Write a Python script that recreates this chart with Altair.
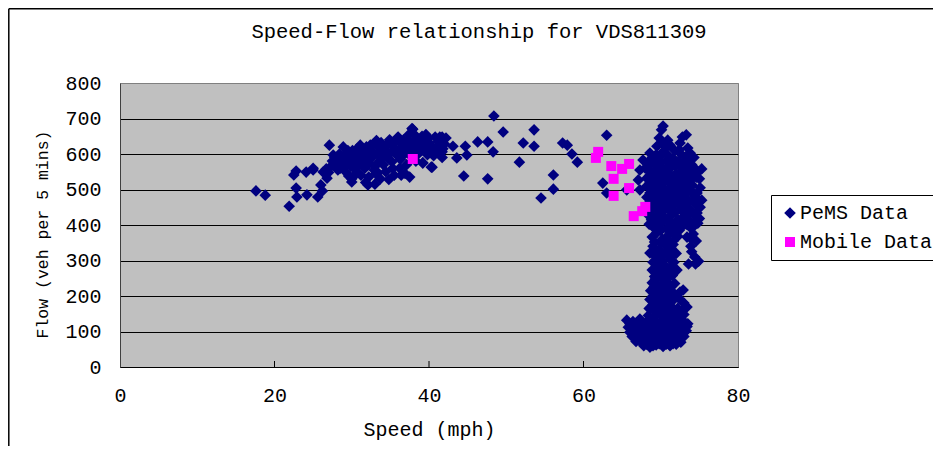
import altair as alt
import pandas as pd

# ---------------- data ----------------
series_names = ["PeMS Data", "Mobile Data"]
series_colors = ["#000080", "#FF00FF"]
x_ticks = [0, 20, 40, 60, 80]
y_ticks = [0, 100, 200, 300, 400, 500, 600, 700, 800]
inner_x_ticks = [20, 40, 60]
chart_title = "Speed-Flow relationship for VDS811309"

pems_points = [
    # sparse low-speed points
    (17.6, 496), (18.8, 484), (21.9, 453), (22.8, 552), (22.5, 541), (24.1, 549),
    (25.0, 560), (22.8, 504), (22.9, 479), (24.2, 485), (25.6, 479), (26.0, 513),
    (26.2, 496), (26.7, 558), (26.8, 532), (27.1, 625), (27.6, 597), (27.8, 577),
    (28.9, 620), (28.5, 560), (25.0, 555), (26.3, 549), (30.0, 521), (33.4, 547),
    (37.9, 670), (41.4, 648), (40.4, 563), (39.2, 575),
    # dense congested cluster 27-42 mph
    (27.0, 548), (27.3, 565), (27.5, 580), (27.8, 590), (28.0, 572), (28.2, 555),
    (28.4, 600), (28.6, 583), (28.8, 562), (29.0, 595), (29.1, 575), (29.3, 548),
    (29.5, 610), (29.7, 588), (29.9, 566), (30.0, 530), (30.2, 598), (30.4, 578),
    (30.5, 555), (30.7, 615), (30.9, 590), (31.0, 570), (31.2, 540), (31.4, 605),
    (31.5, 585), (31.7, 560), (31.9, 620), (32.0, 598), (32.1, 513), (32.3, 575),
    (32.5, 610), (32.6, 590), (32.8, 628), (33.0, 565), (33.1, 545), (33.3, 600),
    (33.5, 618), (33.6, 580), (33.8, 632), (34.0, 595), (34.1, 570), (34.3, 612),
    (34.5, 625), (34.7, 588), (34.9, 640), (35.0, 603), (35.2, 578), (35.4, 620),
    (35.6, 635), (35.8, 598), (36.0, 648), (36.1, 612), (36.3, 585), (36.5, 628),
    (36.7, 640), (36.9, 545), (37.0, 605), (37.2, 620), (37.4, 655), (37.5, 535),
    (37.6, 595), (37.8, 672), (38.0, 630), (38.2, 612), (38.4, 645), (38.6, 600),
    (38.8, 625), (39.0, 640), (39.2, 575), (39.4, 615), (39.6, 655), (39.8, 598),
    (40.0, 632), (40.3, 563), (40.5, 610), (40.8, 648), (41.0, 620), (41.4, 606),
    (41.5, 640), (41.7, 590), (42.0, 628),
    (28.3, 588), (29.2, 565), (29.6, 538), (30.1, 610), (30.6, 545), (31.1, 625),
    (31.6, 598), (32.2, 535), (32.4, 625), (32.9, 555), (33.2, 638), (33.7, 530),
    (33.9, 605), (34.4, 550), (34.6, 600), (34.8, 528), (35.1, 630), (35.3, 560),
    (35.7, 612), (35.9, 645), (36.2, 560), (36.6, 595), (36.8, 618), (37.1, 570),
    (37.3, 640), (37.7, 610), (38.1, 655), (38.3, 580), (38.5, 635), (38.9, 610),
    (39.1, 650), (39.5, 630), (39.9, 645), (40.2, 625), (40.6, 595), (41.2, 635),
    (41.8, 615), (42.2, 645), (31.8, 520), (33.0, 515), (35.5, 540), (36.4, 540),
    # transition 42-65 mph
    (41.7, 648), (43.1, 622), (44.7, 622), (44.9, 597), (43.6, 589), (41.7, 606),
    (46.3, 634), (47.6, 634), (48.3, 606), (44.5, 538), (47.6, 530), (48.4, 707),
    (49.6, 662), (51.7, 577), (52.2, 631), (53.6, 668), (53.6, 622), (57.3, 631),
    (57.9, 625), (58.5, 600), (59.2, 577), (56.1, 541), (56.1, 501), (54.5, 476),
    (63.0, 653), (62.5, 518), (63.0, 490), (65.6, 499),
    # free-flow column, upper part
    (70.3, 679), (70.1, 668),
    (69.8, 645), (70.9, 639), (73.3, 654), (72.8, 648),
    (72.5, 631), (73.5, 617), (71.2, 625), (70.2, 632), (69.5, 622),
    (68.6, 603), (69.4, 598), (70.3, 606), (71.0, 595), (71.8, 610), (72.6, 600), (73.2, 592), (73.8, 603),
    (67.7, 583), (68.5, 578), (69.2, 585), (70.0, 575), (70.8, 582), (71.5, 572), (72.3, 580), (73.0, 575), (74.0, 570),
    (67.3, 555), (68.0, 560), (68.8, 548), (69.6, 558), (70.4, 552), (71.2, 560), (72.0, 545), (72.8, 555), (73.6, 548), (74.8, 549), (75.3, 558),
    (67.1, 527), (68.2, 532), (69.0, 525), (69.8, 535), (70.6, 528), (71.4, 538), (72.2, 522), (73.0, 530), (73.8, 525), (74.6, 535),
    (67.3, 499), (68.2, 510), (69.0, 502), (69.8, 512), (70.5, 498), (71.3, 508), (72.1, 495), (72.9, 505), (73.7, 500), (74.7, 490),
    (68.2, 478), (69.0, 485), (69.7, 472), (70.5, 482), (71.3, 470), (72.0, 485), (72.8, 476), (73.6, 468), (74.4, 480), (75.3, 470),
    (68.3, 452), (69.1, 460), (69.9, 448), (70.7, 456), (71.5, 445), (72.3, 458), (73.1, 450), (73.9, 442), (74.7, 455),
    (68.3, 430), (69.0, 422), (69.8, 432), (70.6, 418), (71.4, 428), (72.2, 415), (73.0, 425), (73.8, 435), (74.7, 434), (75.0, 418),
    (68.5, 402), (69.3, 395), (70.1, 405), (70.9, 392), (71.7, 400), (72.5, 390), (73.3, 402), (74.2, 395), (74.8, 405),
    (68.9, 590), (69.9, 592), (70.7, 618), (71.6, 588), (72.4, 612), (73.4, 580), (74.3, 590),
    (68.4, 565), (69.3, 570), (70.1, 562), (71.0, 566), (71.9, 568), (72.7, 562), (73.5, 565), (74.4, 560),
    (68.6, 540), (69.4, 545), (70.2, 540), (71.0, 545), (71.8, 532), (72.6, 540), (73.4, 538), (74.2, 545), (75.0, 530),
    (68.6, 518), (69.4, 520), (70.2, 515), (71.0, 522), (71.8, 515), (72.5, 518), (73.3, 515), (74.1, 512), (75.1, 505),
    (68.6, 490), (69.4, 494), (70.1, 488), (70.9, 492), (71.7, 488), (72.5, 490), (73.3, 488), (74.1, 492),
    (68.6, 465), (69.4, 470), (70.2, 465), (71.0, 462), (71.8, 468), (72.6, 465), (73.4, 460), (74.3, 465), (75.1, 450),
    (68.7, 440), (69.5, 443), (70.3, 438), (71.1, 442), (71.9, 436), (72.7, 440), (73.5, 444), (74.3, 430),
    (68.8, 415), (69.6, 412), (70.4, 418), (71.2, 410), (72.0, 405), (72.8, 412), (73.6, 415), (74.5, 410),
    # middle part
    (68.9, 366), (69.5, 378), (70.2, 360), (71.0, 372), (71.6, 355), (72.2, 368), (73.8, 394), (73.4, 366),
    (74.2, 375), (74.6, 355), (73.9, 340), (74.4, 310), (74.9, 298), (74.0, 325), (73.6, 290), (69.0, 340),
    (69.8, 330), (70.5, 345), (71.3, 335), (72.0, 320), (68.6, 321), (69.4, 310), (70.2, 300), (71.0, 312),
    (71.7, 295), (68.9, 273), (69.6, 285), (70.4, 270), (71.2, 280), (72.1, 273), (69.2, 255), (70.0, 260),
    (70.8, 248), (71.5, 258),
    (69.2, 390), (70.0, 385), (70.8, 388), (71.6, 382), (72.4, 385), (69.2, 352), (70.0, 350), (70.8, 356),
    (71.6, 345), (74.0, 360), (69.3, 325), (70.1, 318), (70.9, 328), (71.6, 318),
    (74.5, 290), (69.0, 295), (69.8, 292), (70.6, 285), (71.4, 300), (69.5, 265),
    (70.2, 278), (71.0, 265), (71.8, 268),
    # lower part
    (68.9, 237), (69.7, 228), (70.5, 240), (71.2, 225), (68.7, 215), (69.5, 205), (70.3, 212), (71.0, 200),
    (72.5, 211), (72.9, 217), (73.4, 169), (73.0, 180), (68.6, 190), (69.3, 182), (70.1, 192), (70.9, 178),
    (71.6, 188), (68.5, 165), (69.2, 158), (70.0, 168), (70.8, 155), (71.5, 162), (72.3, 150), (68.4, 145),
    (69.1, 140), (69.9, 148), (70.7, 138), (71.4, 145), (72.2, 140), (73.0, 148),
    (69.3, 248), (70.1, 250), (70.9, 238), (71.8, 235), (69.1, 225), (69.9, 218), (70.7, 222), (71.5, 212),
    (72.0, 200), (69.0, 200), (69.8, 195), (70.5, 185), (71.3, 172), (72.2, 165), (69.0, 175), (69.7, 168),
    (70.4, 160), (71.2, 150), (72.5, 190), (72.8, 160),
    # bottom blob
    (65.6, 132), (66.4, 128), (67.3, 135), (68.1, 125), (69.0, 132), (70.0, 128), (71.0, 135), (72.0, 126), (72.9, 130), (73.5, 122),
    (65.8, 112), (66.6, 118), (67.4, 110), (68.2, 116), (69.1, 108), (69.9, 118), (70.8, 112), (71.7, 115), (72.6, 108), (73.4, 114),
    (66.0, 98), (66.8, 102), (67.6, 95), (68.4, 104), (69.3, 97), (70.1, 103), (71.0, 95), (71.9, 100), (72.8, 94), (73.3, 102),
    (66.3, 86), (67.1, 82), (67.9, 88), (68.7, 80), (69.5, 86), (70.4, 82), (71.3, 88), (72.2, 80), (73.0, 86),
    (66.8, 72), (67.6, 68), (68.4, 74), (69.2, 66), (70.0, 72), (70.9, 68), (71.8, 74), (72.6, 70),
    (67.8, 60), (68.6, 56), (69.4, 62), (70.3, 58), (71.2, 60), (72.0, 64),
    (66.0, 122), (66.9, 124), (67.8, 120), (68.6, 128), (69.5, 122), (70.5, 122), (71.4, 126), (72.4, 120), (73.2, 118),
    (66.3, 108), (67.0, 106), (67.9, 104), (68.7, 112), (69.6, 104), (70.4, 110), (71.3, 104), (72.2, 110), (73.0, 104),
    (66.6, 92), (67.3, 90), (68.1, 96), (68.9, 92), (69.8, 92), (70.7, 96), (71.6, 92), (72.5, 88),
    (67.0, 78), (67.9, 76), (68.8, 74), (69.7, 78), (70.6, 76), (71.5, 80), (72.4, 78),
    (68.2, 64), (69.0, 60), (69.8, 66), (70.7, 64), (71.6, 66),
]

mobile_speed = [37.9, 61.9, 61.6, 63.6, 65.0, 65.9, 63.9, 65.9, 63.9, 68.0, 67.6, 66.5]
mobile_flow = [586, 606, 589, 566, 558, 572, 530, 504, 482, 451, 439, 425]

# ---------------- build tables ----------------
pems_speed = [p[0] for p in pems_points]
pems_flow = [p[1] for p in pems_points]
df = pd.DataFrame({
    "speed": pems_speed + mobile_speed,
    "flow": pems_flow + mobile_flow,
    "series": [series_names[0]] * len(pems_speed) + [series_names[1]] * len(mobile_speed),
})
tick_df = pd.DataFrame({"speed": inner_x_ticks})
one_row = pd.DataFrame({"a": [0]})
title_df = pd.DataFrame({"t": [chart_title]})

FONT = "Liberation Mono"
W, H = 618, 284
PAD = {"left": 112, "top": 75, "right": 195, "bottom": 79}

legend = alt.Legend(
    title=None, orient="none", legendX=651, legendY=112,
    strokeColor="black", fillColor="white", padding=8, cornerRadius=0,
    labelFont=FONT, labelFontSize=20, labelColor="black",
    labelExpr="datum.label + '   '", labelLimit=400,
    rowPadding=9, symbolOffset=1, labelOffset=0, symbolSize=60,
    symbolStrokeWidth=0,
)

x_enc = alt.X(
    "speed:Q",
    scale=alt.Scale(domain=[0, 80], nice=False, zero=True),
    axis=alt.Axis(
        values=x_ticks, title="Speed (mph)", grid=False, ticks=False, tickSize=0,
        labelFont=FONT, labelFontSize=20, labelColor="black", labelPadding=28,
        labelBaseline="middle", labelFlush=False,
        titleFont=FONT, titleFontSize=20, titleFontWeight="normal", titleColor="black",
        titleY=62, titleBaseline="middle",
        domainColor="black", domainWidth=1,
    ),
)
y_enc = alt.Y(
    "flow:Q",
    scale=alt.Scale(domain=[0, 800], nice=False),
    axis=alt.Axis(
        values=y_ticks, title="Flow (veh per 5 mins)", grid=True,
        gridColor={"condition": {"test": "datum.value === 800", "value": "#808080"}, "value": "black"},
        gridOpacity=1, gridWidth=1, ticks=False, tickSize=0,
        labelFont=FONT, labelFontSize=20, labelColor="black", labelPadding=19,
        labelFlush=False,
        titleFont=FONT, titleFontSize=16.5, titleFontWeight="normal", titleColor="black",
        titleX=-78, titleY=151, titleAngle=270, titleAlign="center", titleBaseline="middle",
        domainColor="#404040", domainWidth=1,
    ),
)

points = alt.Chart(df).mark_point(filled=True, opacity=1, strokeWidth=0).encode(
    x=x_enc,
    y=y_enc,
    color=alt.Color("series:N", scale=alt.Scale(domain=series_names, range=series_colors), legend=legend),
    shape=alt.Shape("series:N", scale=alt.Scale(domain=series_names, range=["diamond", "square"]), legend=legend),
    size=alt.Size("series:N", scale=alt.Scale(domain=series_names, range=[135, 100]), legend=None),
)

inner_ticks = alt.Chart(tick_df).mark_rule(color="black", strokeWidth=1).encode(
    x="speed:Q", y=alt.value(H), y2=alt.value(H - 6)
)

frame_left = alt.Chart(one_row).mark_rule(color="black", strokeWidth=1.5).encode(
    x=alt.value(-PAD["left"] + 0.8), y=alt.value(-PAD["top"] + 0.8), y2=alt.value(H + PAD["bottom"])
)
frame_top = alt.Chart(one_row).mark_rule(color="black", strokeWidth=1.5).encode(
    x=alt.value(-PAD["left"] + 0.8), x2=alt.value(W + PAD["right"]), y=alt.value(-PAD["top"] + 0.8)
)

title_text = alt.Chart(title_df).mark_text(
    font=FONT, fontSize=20.5, color="black", align="center", baseline="middle"
).encode(text="t:N", x=alt.value(359), y=alt.value(-51))

chart = alt.layer(frame_left, frame_top, points, inner_ticks, title_text).properties(
    width=W, height=H,
    autosize=alt.AutoSizeParams(type="none"),
    padding=PAD,
).configure(background="white").configure_view(
    fill="#C0C0C0", stroke="#808080", strokeWidth=1
)

chart.save("out.html", embed_options={"renderer": "svg", "actions": False})
